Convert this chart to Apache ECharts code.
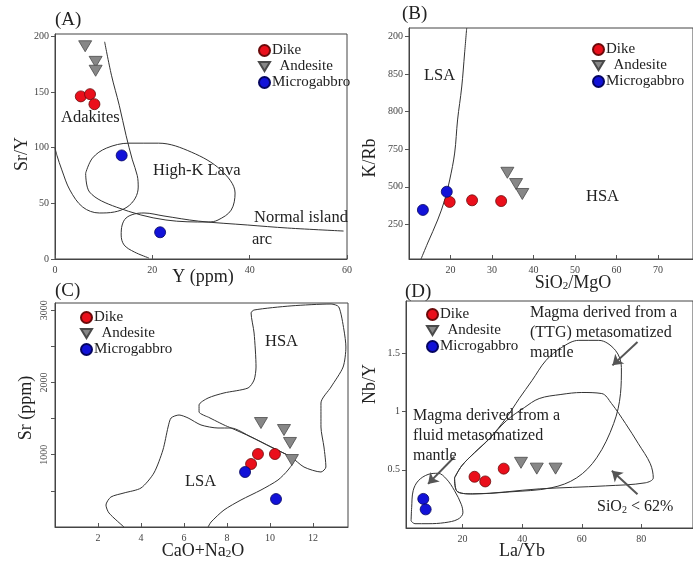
<!DOCTYPE html>
<html><head><meta charset="utf-8">
<script src="https://cdn.jsdelivr.net/npm/echarts@6/dist/echarts.min.js"></script>
<style>html,body{margin:0;padding:0;background:#fff}#c{width:693px;height:566px}</style>
</head><body><div id="c"></div>
<script>
// ---------- Panel A : Sr/Y vs Y (ppm) ----------
const aDike = [[5.3,146],[7.2,148],[8.1,139]];
const aAndesite = [[6.2,191],[8.35,177],[8.35,169]];
const aMicro = [[13.7,93],[21.6,24]];
const aAdakiteLine = [[10.2,195],[11.6,165],[13.2,138],[14.6,111],[15.9,89],[16.9,75],[17.1,64.6],[16.5,54.7],[14.8,46.6],[12.2,42.2],[9.1,41.3],[5.7,46.6],[3.05,62],[1.4,80],[0.4,93],[0,99.6]];
const aIslandArcLine = [[19.3,0.9],[16.3,6.3],[14.2,12.6],[13.6,21.5],[13.8,30.5],[14.6,36.8],[16.3,40.4],[18.3,41.3],[22.4,38.6],[29.5,34],[39.6,30.5],[47.8,27.8],[59.3,25.1]];
const aHighKLava = [[6.3,77.1],[7.7,90.6],[10.6,99.6],[15.2,104],[21.3,104],[28,96],[34.1,79.8],[37,59.2],[36.2,43.9],[33.5,35],[31.5,33.2],[22.8,35],[12.6,46.6],[7.1,60.1],[6.3,77.1]];
const aXTicks = [0,20,40,60];
const aYTicks = [0,50,100,150,200];

// ---------- Panel B : K/Rb vs SiO2/MgO ----------
const bDike = [[19.8,399],[25.2,410],[32.2,405]];
const bAndesite = [[33.7,593],[35.8,518],[37.3,452]];
const bMicro = [[13.35,346],[19.1,467]];
const bBoundary = [[12.9,20],[14.5,126],[16.9,279],[18.6,412],[19.8,545],[21.0,724],[21.7,944],[22.7,1163],[23.4,1389],[23.9,1555]];
const bXTicks = [20,30,40,50,60,70];
const bYTicks = [250,500,750,1000,1250,1500];
const bYLabels = ['250','500','750','800','850','200'];

// ---------- Panel C : Sr (ppm) vs CaO+Na2O ----------
const cDike = [[9.44,1010],[10.23,1010],[9.12,872]];
const cAndesite = [[9.58,1439],[10.65,1342],[10.93,1163],[11.02,927]];
const cMicro = [[8.84,761],[10.28,387]];
const cLSA = [[3.21,0],[2.51,194],[2.37,304],[2.6,415],[3.21,471],[4.0,540],[4.6,747],[5.02,1066],[5.26,1384],[5.4,1509],[5.77,1550],[6.19,1509],[6.79,1412],[7.58,1370],[8.19,1370],[9.12,1246],[10.05,1107],[10.98,969],[11.12,927],[10.84,789],[10.37,650],[9.58,512],[8.65,374],[7.86,235],[7.26,69],[7.12,0]];
const cHSA = [[7.12,1522],[7.86,1412],[8.19,1370],[9.12,1246],[10.05,1107],[10.98,969],[11.58,830],[12.37,761],[12.6,830],[12.51,1107],[12.37,1384],[12.37,1716],[12.84,1938],[13.4,2214],[13.53,2491],[13.44,2726],[13.2,3045],[12.84,3086],[10.98,3060],[9.26,3003],[9.12,2962],[9.26,2685],[9.35,2214],[9.26,2034],[8.98,1924],[7.86,1855],[7.12,1785],[6.7,1688],[6.7,1592],[7.12,1522]];
const cXTicks = [2,4,6,8,10,12];
const cYTicks = [500,1000,1500,2000,2500,3000];
const cYLabelTicks = [1000,2000,3000];

// ---------- Panel D : Nb/Y vs La/Yb ----------
const dDike = [[24,0.44],[27.6,0.40],[33.8,0.51]];
const dAndesite = [[39.6,0.56],[44.9,0.51],[51.2,0.51]];
const dMicro = [[6.8,0.25],[7.6,0.16]];
const dFluid = [[2.7,0.06],[2.9,0.175],[3.4,0.32],[5.1,0.405],[8.4,0.46],[11.8,0.47],[14.6,0.42],[17.3,0.32],[19.6,0.20],[20.1,0.13],[18.4,0.075],[14,0.046],[8.4,0.037],[4,0.037],[2.7,0.06]];
const dTTG = [[17.3,0.431],[19.7,0.534],[24,0.647],[29,0.767],[34.7,0.948],[39,1.112],[43.3,1.267],[48,1.44],[53.3,1.552],[59,1.612],[65.7,1.612],[71.3,1.526],[73.3,1.379],[73,1.155],[70.7,0.897],[65,0.603],[58.3,0.431],[49.7,0.345],[35.7,0.31],[23.3,0.293],[18,0.319],[17.3,0.431]];
const dSiO2 = [[17.3,0.431],[19.7,0.534],[24,0.647],[29,0.767],[34.7,0.922],[40.7,1.034],[45.7,1.112],[53,1.147],[60,1.164],[66.7,1.155],[70,1.069],[74.7,0.897],[79,0.724],[83,0.552],[84,0.431],[81.3,0.388],[68,0.362],[45.7,0.336],[23.3,0.293],[18,0.319],[17.3,0.431]];
const dArrows = [[78.7,1.597,70.3,1.397],[78.7,0.29,70.1,0.491],[17.3,0.612,8.4,0.379]];
const dXTicks = [20,40,60,80];
const dYTicks = [0.5,1,1.5];

const FONT = 'Liberation Serif';
const TRI = 'path://M0,0 L12,0 L6,10 Z';

function axis(grid, min, max, ticks, labelTicks, fmt, extra) {
  extra = extra || {};
  return {
    type: 'value', gridIndex: grid, min: min, max: max,
    axisLine: {show: true, onZero: false, lineStyle: {color: '#444', width: 1}},
    axisTick: {show: true, inside: !!extra.inside, length: 4, customValues: ticks, lineStyle: {color: '#555'}},
    axisLabel: {customValues: labelTicks, fontFamily: FONT, fontSize: 10, color: '#444', margin: extra.margin || 6,
      rotate: extra.rotate || 0, formatter: fmt || (v => String(v))},
    splitLine: {show: false}
  };
}

function lineS(grid, data, extra) {
  return Object.assign({type: 'line', xAxisIndex: grid, yAxisIndex: grid, data: data, smooth: 0.35,
    symbol: 'none', silent: true, z: 2, lineStyle: {color: '#333', width: 1}}, extra || {});
}
function pts(grid, name, data) {
  const st = {
    Dike: {symbol: 'circle', symbolSize: 11, itemStyle: {color: '#ea0f1b', borderColor: '#6b0a0a', borderWidth: 0.8, opacity: 1}},
    Andesite: {symbol: TRI, symbolSize: [13, 11], itemStyle: {color: '#878787', borderColor: '#4a4a4a', borderWidth: 0.8, opacity: 1}},
    Microgabbro: {symbol: 'circle', symbolSize: 11, itemStyle: {color: '#1212d8', borderColor: '#050560', borderWidth: 0.8, opacity: 1}}
  }[name];
  return Object.assign({type: 'scatter', name: name, xAxisIndex: grid, yAxisIndex: grid, data: data, z: 5}, st);
}

function legendAt(left, top) {
  return {left: left, top: top, orient: 'vertical', itemGap: 1, itemWidth: 11, itemHeight: 11, selectedMode: false,
    textStyle: {fontFamily: FONT, fontSize: 15, color: '#222', padding: [0, 0, 0, -3]},
    formatter: n => n === 'Andesite' ? '  Andesite' : n,
    data: [{name: 'Dike', icon: 'circle'}, {name: 'Andesite', icon: TRI}, {name: 'Microgabbro', icon: 'circle'}]};
}

function txt(x, y, text, size, extra) {
  return Object.assign({type: 'text', x: x, y: y, silent: true, z: 10,
    style: {text: text, fontFamily: FONT, fontSize: size || 16, fill: '#222', align: 'left', verticalAlign: 'middle'}}, extra || {});
}
function richTxt(x, y, text, size, align, rotation) {
  return {type: 'text', x: x, y: y, rotation: rotation || 0, silent: true, z: 10,
    style: {text: text, align: align || 'center', verticalAlign: 'middle', fill: '#222',
      rich: {n: {fontFamily: FONT, fontSize: size, fill: '#222'},
             s: {fontFamily: FONT, fontSize: Math.round(size * 0.62), fill: '#222', padding: [Math.round(size * 0.4), 0, 0, 0]}}}};
}

const arrowData = dArrows.map(a => [{coord: [a[0], a[1]]}, {coord: [a[2], a[3]]}]);

const option = {
  animation: false,
  backgroundColor: '#fff',
  grid: [
    {left: 55, top: 34, width: 292, height: 225, show: true, borderColor: '#444', borderWidth: 1},
    {left: 409, top: 28, width: 286, height: 231, show: true, borderColor: '#444', borderWidth: 1},
    {left: 55, top: 303, width: 293, height: 224, show: true, borderColor: '#444', borderWidth: 1},
    {left: 406, top: 301, width: 289, height: 227, show: true, borderColor: '#444', borderWidth: 1}
  ],
  xAxis: [
    axis(0, 0, 60, aXTicks, aXTicks, null, {inside: true}),
    axis(1, 10, 10 + 286 / 4.18, bXTicks, bXTicks, null, {inside: true}),
    axis(2, 0, 293 / 21.5, cXTicks, cXTicks, null, {inside: true}),
    axis(3, 1, 1 + 289 / 3.0, dXTicks, dXTicks, null, {inside: true})
  ],
  yAxis: [
    axis(0, 0, 202, aYTicks, aYTicks),
    axis(1, 20, 1555, bYTicks, bYTicks, v => bYLabels[bYTicks.indexOf(v)] || ''),
    axis(2, 0, 3100, cYTicks, cYLabelTicks, null, {rotate: 90, margin: 6}),
    axis(3, 0, 1.95, dYTicks, dYTicks)
  ],
  legend: [legendAt(253, 38), legendAt(587, 37), legendAt(75, 305), legendAt(421, 302)],
  series: [
    lineS(0, aAdakiteLine), lineS(0, aIslandArcLine), lineS(0, aHighKLava),
    pts(0, 'Dike', aDike), pts(0, 'Andesite', aAndesite), pts(0, 'Microgabbro', aMicro),
    lineS(1, bBoundary),
    pts(1, 'Dike', bDike), pts(1, 'Andesite', bAndesite), pts(1, 'Microgabbro', bMicro),
    lineS(2, cLSA, {smooth: 0.25}), lineS(2, cHSA, {smooth: 0.25}),
    pts(2, 'Dike', cDike), pts(2, 'Andesite', cAndesite), pts(2, 'Microgabbro', cMicro),
    lineS(3, dFluid), lineS(3, dTTG),
    lineS(3, dSiO2, {markLine: {silent: true, symbol: ['none', 'arrow'], symbolSize: 10, label: {show: false},
      lineStyle: {color: '#555', width: 2, type: 'solid'}, emphasis: {disabled: true}, data: arrowData}}),
    pts(3, 'Dike', dDike), pts(3, 'Andesite', dAndesite), pts(3, 'Microgabbro', dMicro)
  ],
  graphic: [
    txt(55, 20, '(A)', 19), txt(402, 14, '(B)', 19), txt(55, 291, '(C)', 19), txt(405, 292, '(D)', 19),
    richTxt(203, 277, '{n|Y (ppm)}', 18),
    richTxt(22, 154, '{n|Sr/Y}', 18, 'center', Math.PI / 2),
    richTxt(573, 283, '{n|SiO}{s|2}{n|/MgO}', 18),
    richTxt(370, 158, '{n|K/Rb}', 18, 'center', Math.PI / 2),
    richTxt(203, 551, '{n|CaO+Na}{s|2}{n|O}', 18),
    richTxt(26, 408, '{n|Sr (ppm)}', 18, 'center', Math.PI / 2),
    richTxt(522, 551, '{n|La/Yb}', 18),
    richTxt(370, 384, '{n|Nb/Y}', 18, 'center', Math.PI / 2),
    txt(61, 118, 'Adakites', 16.5), txt(153, 171, 'High-K Lava', 16.5),
    txt(254, 218, 'Normal island', 16.5), txt(252, 240, 'arc', 16.5),
    txt(424, 76, 'LSA', 16.5), txt(586, 197, 'HSA', 16.5),
    txt(265, 342, 'HSA', 16.5), txt(185, 482, 'LSA', 16.5),
    txt(530, 313, 'Magma derived from a', 16), txt(530, 333, '(TTG) metasomatized', 16), txt(530, 353, 'mantle', 16),
    txt(413, 416, 'Magma derived from a', 16), txt(413, 436, 'fluid metasomatized', 16), txt(413, 456, 'mantle', 16),
    richTxt(597, 507, '{n|SiO}{s|2}{n| < 62%}', 16, 'left')
  ]
};

const chart = echarts.init(document.getElementById('c'), null, {renderer: 'canvas'});
chart.setOption(option);
</script>
</body></html>
